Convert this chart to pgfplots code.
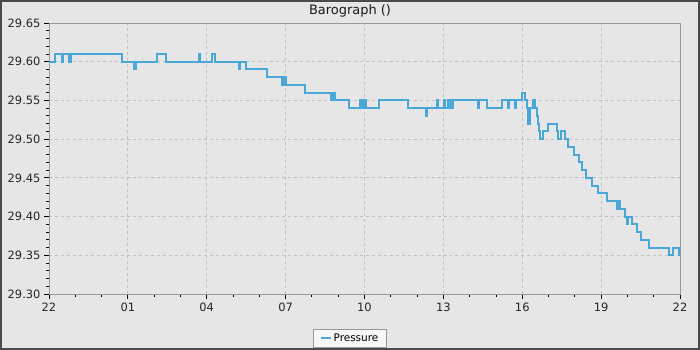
\documentclass[border=0pt]{standalone}
\usepackage{pgfplots}
\pgfplotsset{compat=1.18}
\usepackage{fontspec}
\setmainfont{DejaVu Sans}
\definecolor{bgc}{HTML}{E6E6E6}
\definecolor{framec}{HTML}{999999}
\definecolor{gridc}{HTML}{C0C0C0}
\definecolor{linec}{HTML}{4AA8D8}
\definecolor{borderc}{HTML}{4A4A4A}
\begin{document}
\begin{tikzpicture}
\useasboundingbox (-49bp,-56bp) rectangle (651bp,294bp);
\fill[bgc] (-49bp,-56bp) rectangle (651bp,294bp);
\draw[borderc,line width=2bp] (-48bp,-55bp) rectangle (650bp,293bp);
\begin{axis}[
  at={(0,0)}, anchor=south west,
  scale only axis, width=631bp, height=271bp,
  xmin=0, xmax=24, ymin=29.30, ymax=29.65,
  axis background/.style={fill=bgc},
  axis line style={framec, line width=0.9bp},
  xtick={0,3,...,24},
  xticklabels={22,01,04,07,10,13,16,19,22},
  minor xtick={1,2,4,5,7,8,10,11,13,14,16,17,19,20,22,23},
  ytick={29.30,29.35,...,29.66},
  minor ytick={29.31,29.32,29.33,29.34,29.36,29.37,29.38,29.39,29.41,29.42,29.43,29.44,29.46,29.47,29.48,29.49,29.51,29.52,29.53,29.54,29.56,29.57,29.58,29.59,29.61,29.62,29.63,29.64},
  yticklabel style={/pgf/number format/.cd, fixed, fixed zerofill, precision=2},
  /pgf/number format/assume math mode=true,
  tick align=outside, xtick pos=left, ytick pos=left,
  major tick length=5bp, minor tick length=3bp,
  tick style={black, line width=0.9bp},
  ymajorgrids, xmajorgrids,
  major grid style={gridc, dashed, line width=0.9bp},
  tick label style={font=\fontsize{11.5}{13}\selectfont, text=black!85},
  legend style={at={(0.477,-0.164)}, anchor=center, draw=framec, fill=white!97!black,
    font=\fontsize{10.5}{12}\selectfont, inner xsep=6bp, inner ysep=2.5bp, line width=0.9bp,
    legend cell align=left},
  legend image code/.code={\draw[#1] (0bp,0bp) -- (10bp,0bp);},
]
\addplot[const plot, linec, line width=2bp] coordinates {
(0,29.60) (0.23,29.61) (0.49,29.60) (0.55,29.61) (0.76,29.60) (0.82,29.61)
(2.79,29.60) (3.23,29.59) (3.31,29.60) (4.10,29.61) (4.44,29.60)
(5.72,29.61) (5.76,29.60) (6.20,29.61) (6.31,29.60)
(7.21,29.59) (7.26,29.60) (7.48,29.59) (8.28,29.58) (8.85,29.57) (8.94,29.58) (9.00,29.57)
(9.74,29.56) (10.72,29.55) (10.80,29.56) (10.86,29.55) (11.41,29.54)
(11.83,29.55) (11.89,29.54) (11.92,29.55) (11.96,29.54) (12.00,29.55) (12.06,29.54)
(12.55,29.55) (13.64,29.54) (14.32,29.53) (14.36,29.54) (14.74,29.55) (14.78,29.54)
(15.02,29.55) (15.06,29.54) (15.18,29.55) (15.21,29.54) (15.27,29.55) (15.31,29.54)
(15.37,29.55) (16.30,29.54) (16.35,29.55) (16.67,29.54) (17.23,29.55) (17.44,29.54)
(17.50,29.55) (17.71,29.54) (17.76,29.55) (17.98,29.56) (18.12,29.55) (18.19,29.54)
(18.23,29.52) (18.30,29.54) (18.42,29.55) (18.49,29.54) (18.55,29.53) (18.61,29.52)
(18.65,29.51) (18.68,29.50) (18.78,29.51) (18.99,29.52) (19.33,29.51) (19.37,29.50)
(19.48,29.51) (19.63,29.50) (19.75,29.49) (19.98,29.48) (20.16,29.47) (20.26,29.46)
(20.41,29.45) (20.67,29.44) (20.89,29.43) (21.21,29.42) (21.59,29.41) (21.64,29.42)
(21.72,29.41) (21.91,29.40) (21.97,29.39) (22.02,29.40) (22.16,29.39) (22.35,29.38)
(22.50,29.37) (22.82,29.36) (23.58,29.35) (23.75,29.36) (23.97,29.35) (24,29.35)
};
\addlegendentry{Pressure}
\end{axis}
\node[font=\fontsize{13}{15}\selectfont, text=black!90] at (301bp,283bp) {Barograph ()};
\end{tikzpicture}
\end{document}
